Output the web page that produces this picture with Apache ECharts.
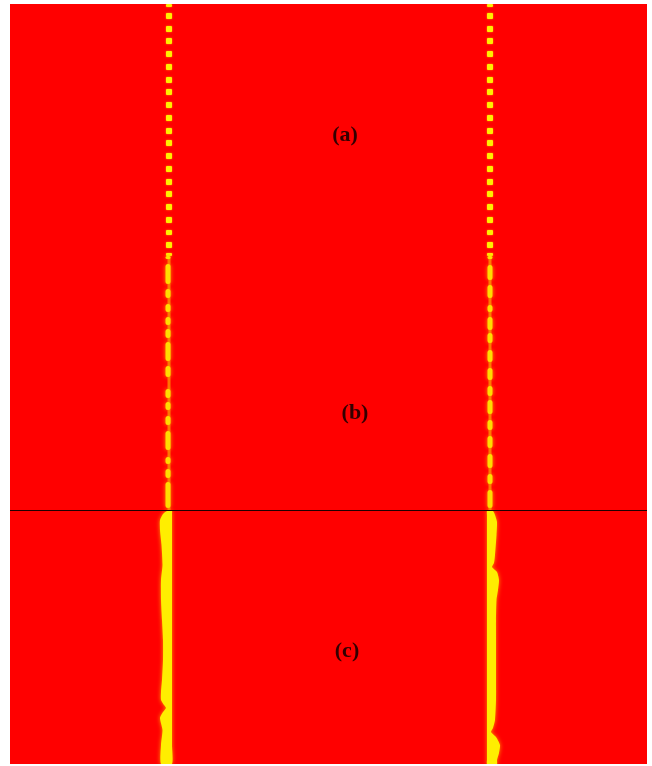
<!DOCTYPE html>
<html>
<head>
<meta charset="utf-8">
<script src="https://cdn.jsdelivr.net/npm/echarts@6/dist/echarts.min.js"></script>
<style>
  html, body { margin: 0; padding: 0; background: #ffffff; }
  #chart { width: 652px; height: 766px; }
</style>
</head>
<body>
<div id="chart"></div>
<script>
// plot units follow the picture's pixel grid (x 10..647, y 4..764, y grows downward)
const xRange = [10, 647];
const yRange = [4, 764];

// x extent of the two yellow lines in (a) and (b)
const leftLineX = [166, 172];
const rightLineX = [487, 493];

// (a): square dashes, [top, bottom]
const dashesA = [
  [4, 7], [13, 19], [26, 32], [38, 44], [51, 57], [64, 70], [77, 83],
  [89, 95], [102, 108], [115, 121], [128, 134], [140, 146], [153, 159],
  [166, 172], [179, 185], [191, 197], [204, 210], [217, 223], [230, 235],
  [242, 248], [253, 256],
];

// (b): blobs along each line, [top, bottom]
const blobsBLeft = [
  [256, 259], [264, 284], [289, 298], [304, 312], [317, 325], [329, 338],
  [342, 361], [366, 377], [389, 398], [402, 410], [416, 425], [431, 450],
  [457, 464], [469, 478], [482, 508],
];
const blobsBRight = [
  [256, 259], [265, 280], [285, 298], [305, 312], [317, 330], [333, 343],
  [350, 362], [368, 380], [386, 396], [400, 414], [420, 430], [436, 448],
  [454, 468], [474, 484], [490, 508],
];
const panelBSpan = [256, 510];

// (c): thick bands, outer edge profile against y
const cLeftY = [511, 514, 520, 530, 545, 565, 580, 600, 620, 640, 660, 680, 692, 700, 705, 708, 712, 718, 730, 745, 764];
const cLeftEdge = [167, 163, 160, 160, 161.5, 162.5, 161, 161, 162, 163, 163, 162, 161, 161, 164, 166, 163, 160, 162.5, 161, 161];
const cLeftInner = 172;
const cRightY = [511, 515, 522, 535, 555, 563, 567, 572, 580, 590, 600, 620, 640, 670, 700, 720, 728, 732, 737, 745, 753, 760, 764];
const cRightEdge = [493, 495, 497, 496.5, 495, 494, 492, 497, 499, 498, 496.5, 496, 496, 496, 496, 495, 493, 491, 496, 500, 499, 497, 497];
const cRightInner = 487;

// panel labels
const labelText = ['(a)', '(b)', '(c)'];
const labelX = [345, 355, 347];
const labelY = [135, 413, 651];

const dividerY = 510.5;

const RED = '#ff0000';
const YELLOW = '#ffee00';
const GLOW = '#ff9900';

// rectangles: [x0, x1, y0, y1, kind]
const rects = [];
[leftLineX, rightLineX].forEach(lx => {
  rects.push([lx[0] + 1.5, lx[1] - 1.5, panelBSpan[0], panelBSpan[1], 'stem']);
  dashesA.forEach(d => rects.push([lx[0], lx[1], d[0], d[1], 'dash']));
});
blobsBLeft.forEach(b => rects.push([leftLineX[0] - 0.5, leftLineX[1] - 1.5, b[0], b[1], 'blob']));
blobsBRight.forEach(b => rects.push([rightLineX[0] + 0.5, rightLineX[1] - 0.5, b[0], b[1], 'blob']));

const bands = [
  { y: cLeftY, edge: cLeftEdge, inner: cLeftInner },
  { y: cRightY, edge: cRightEdge, inner: cRightInner },
];

const chart = echarts.init(document.getElementById('chart'), null, { renderer: 'canvas' });

chart.setOption({
  animation: false,
  backgroundColor: '#ffffff',
  grid: {
    left: xRange[0],
    top: yRange[0],
    width: xRange[1] - xRange[0],
    height: yRange[1] - yRange[0],
    show: true,
    backgroundColor: RED,
    borderWidth: 0,
  },
  xAxis: {
    type: 'value',
    min: xRange[0],
    max: xRange[1],
    show: false,
  },
  yAxis: {
    type: 'value',
    min: yRange[0],
    max: yRange[1],
    inverse: true,
    show: false,
  },
  series: [
    {
      type: 'custom',
      silent: true,
      clip: true,
      data: rects,
      renderItem: (params, api) => {
        const p0 = api.coord([api.value(0), api.value(2)]);
        const p1 = api.coord([api.value(1), api.value(3)]);
        const kind = rects[params.dataIndex][4];
        const x = Math.min(p0[0], p1[0]);
        const y = Math.min(p0[1], p1[1]);
        const w = Math.abs(p1[0] - p0[0]);
        const h = Math.abs(p1[1] - p0[1]);
        if (kind === 'stem') {
          return {
            type: 'rect',
            shape: { x, y, width: w, height: h },
            style: { fill: '#ff9a00', opacity: 0.75 },
          };
        }
        return {
          type: 'rect',
          shape: { x, y, width: w, height: h, r: kind === 'blob' ? 2.5 : 1 },
          style: {
            fill: kind === 'blob' ? '#ffdc00' : YELLOW,
            shadowBlur: kind === 'blob' ? 4 : 2,
            shadowColor: GLOW,
          },
        };
      },
    },
    {
      type: 'custom',
      silent: true,
      clip: true,
      data: bands.map((b, i) => [i]),
      renderItem: (params, api) => {
        const band = bands[params.dataIndex];
        const pts = [];
        band.y.forEach((yy, i) => pts.push(api.coord([band.edge[i], yy])));
        for (let i = band.y.length - 1; i >= 0; i--) {
          pts.push(api.coord([band.inner, band.y[i]]));
        }
        return {
          type: 'polygon',
          shape: { points: pts, smooth: 0.2 },
          style: { fill: YELLOW, shadowBlur: 4, shadowColor: GLOW },
        };
      },
    },
    {
      type: 'scatter',
      silent: true,
      symbolSize: 0,
      data: labelText.map((t, i) => ({ name: t, value: [labelX[i], labelY[i]] })),
      label: {
        show: true,
        position: 'inside',
        formatter: p => p.name,
        color: '#000000',
        fontFamily: 'Liberation Serif, Times New Roman, serif',
        fontSize: 22,
        fontWeight: 'bold',
      },
      markLine: {
        silent: true,
        symbol: 'none',
        label: { show: false },
        lineStyle: { color: '#200000', width: 1.2, type: 'solid' },
        data: [{ yAxis: dividerY }],
      },
    },
  ],
});
</script>
</body>
</html>
